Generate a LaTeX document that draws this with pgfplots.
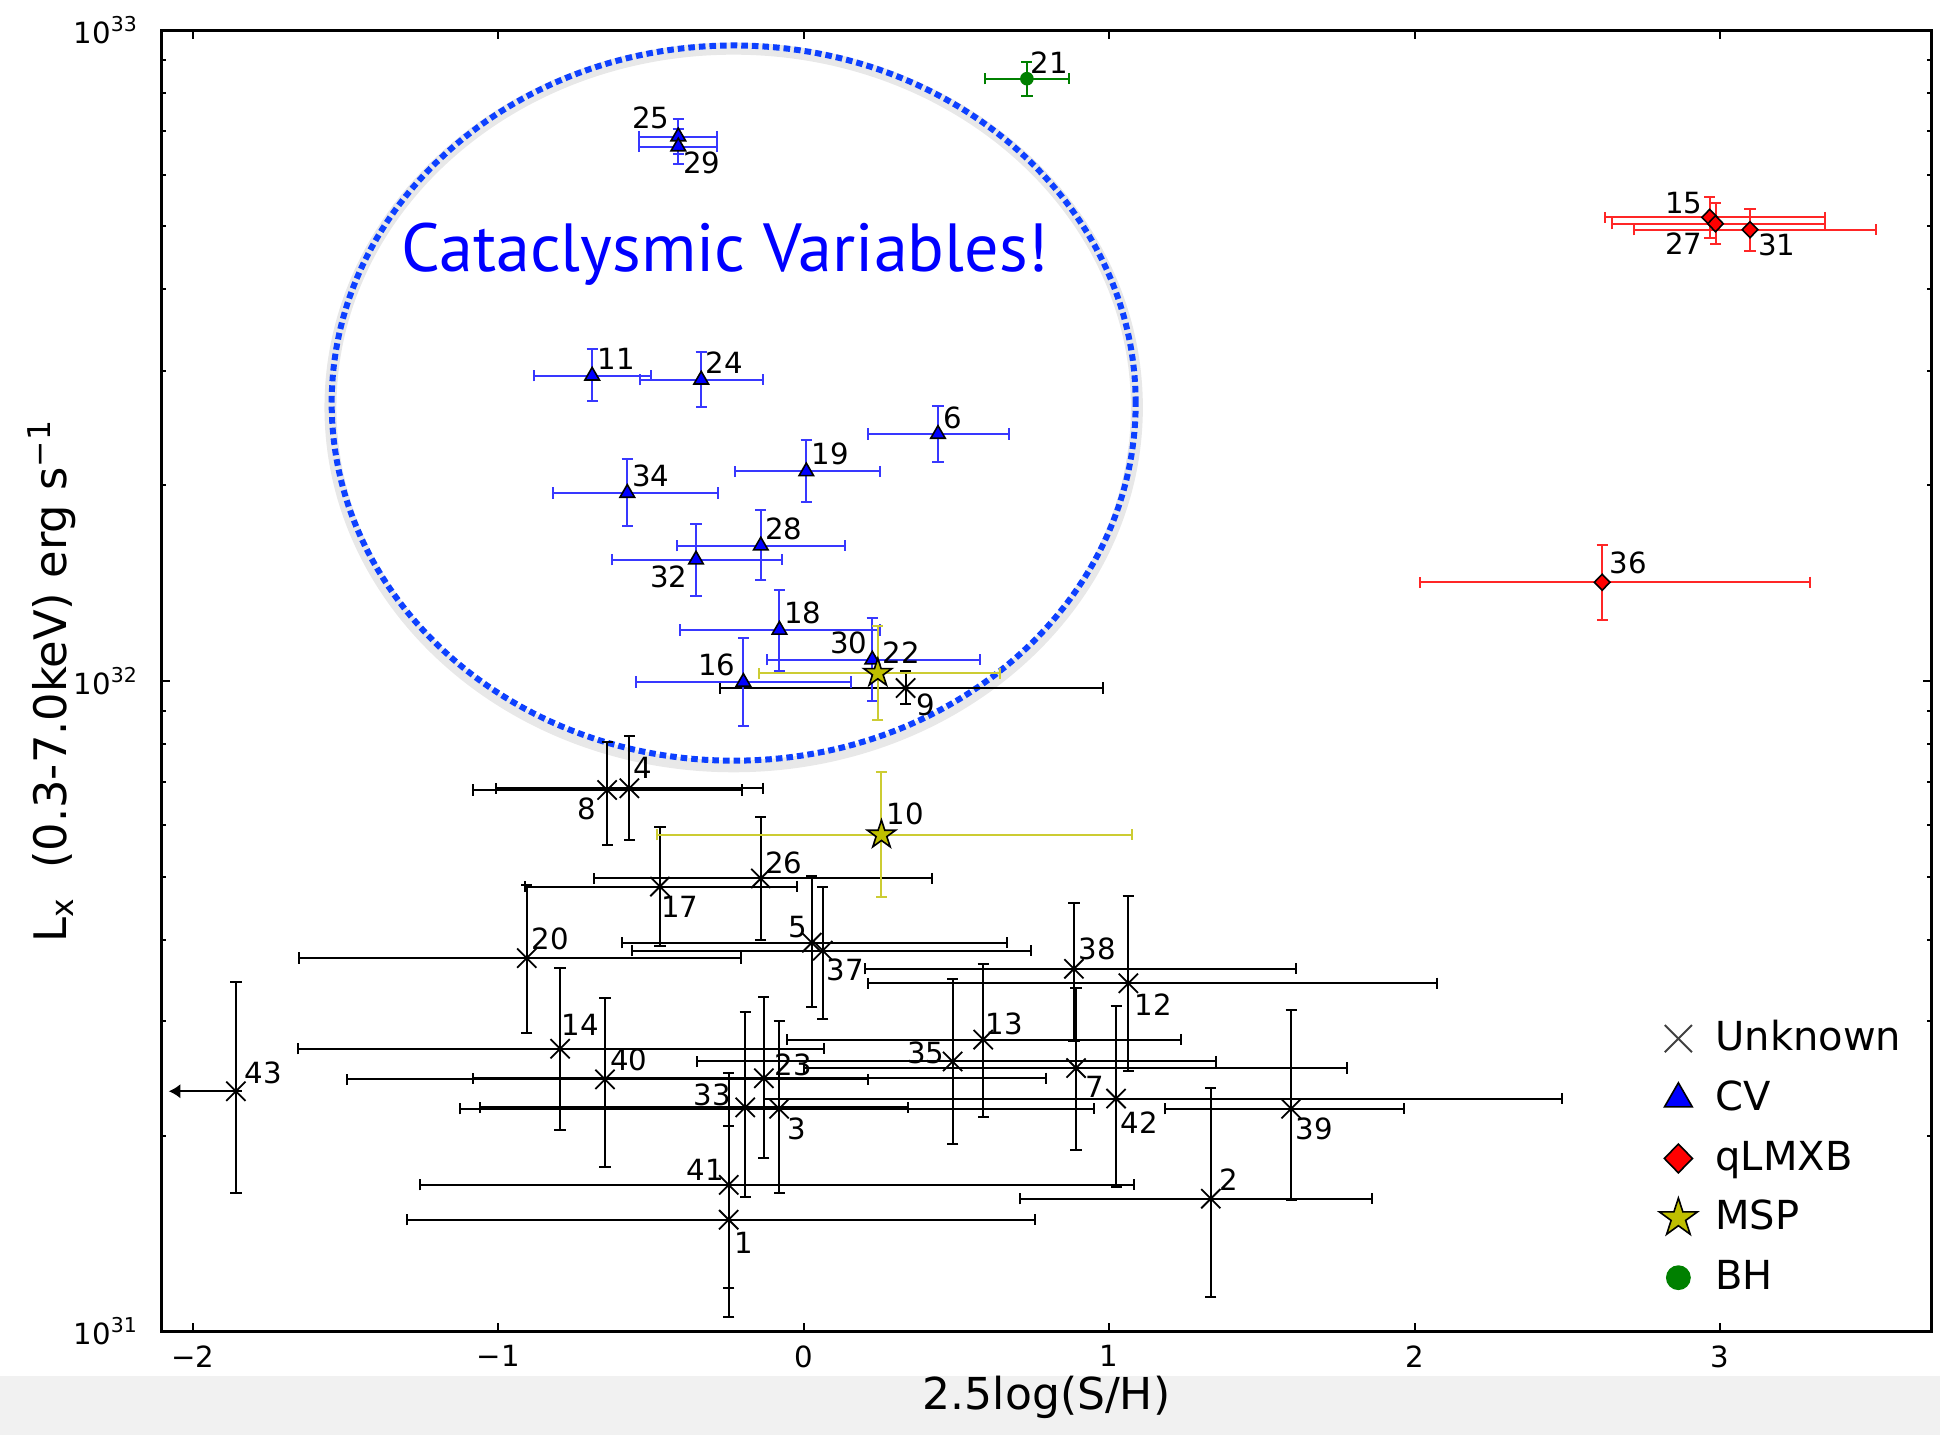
\documentclass[border=0pt]{standalone}
\usepackage{pgfplots}
\pgfplotsset{compat=1.18}
\usepackage{pgfplotstable}
\usepackage{fontspec}
\setmainfont{DejaVu Sans}
\newfontfamily\annfont{PT Sans}
\usetikzlibrary{arrows.meta}

\definecolor{cverr}{rgb}{0.22,0.22,1}
\definecolor{lmxberr}{rgb}{1,0.15,0.15}
\definecolor{mspfill}{rgb}{0.75,0.75,0}
\definecolor{msperr}{rgb}{0.8,0.8,0.2}
\definecolor{bhgreen}{rgb}{0,0.5,0}
\definecolor{ringblue}{rgb}{0.05,0.25,1}
\definecolor{bandgray}{rgb}{0.945,0.945,0.945}

\newcommand\lblfont{\fontsize{7.3}{8}\selectfont}

% filled five-pointed star
\pgfdeclareplotmark{fivestar}{%
  \pgfpathmoveto{\pgfpointpolar{90}{\pgfplotmarksize}}%
  \pgfpathlineto{\pgfpointpolar{126}{0.382*\pgfplotmarksize}}%
  \pgfpathlineto{\pgfpointpolar{162}{\pgfplotmarksize}}%
  \pgfpathlineto{\pgfpointpolar{198}{0.382*\pgfplotmarksize}}%
  \pgfpathlineto{\pgfpointpolar{234}{\pgfplotmarksize}}%
  \pgfpathlineto{\pgfpointpolar{270}{0.382*\pgfplotmarksize}}%
  \pgfpathlineto{\pgfpointpolar{306}{\pgfplotmarksize}}%
  \pgfpathlineto{\pgfpointpolar{342}{0.382*\pgfplotmarksize}}%
  \pgfpathlineto{\pgfpointpolar{18}{\pgfplotmarksize}}%
  \pgfpathlineto{\pgfpointpolar{54}{0.382*\pgfplotmarksize}}%
  \pgfpathclose
  \pgfusepathqfillstroke
}

% x  y  x-err(-)  x-err(+)  y-err(-)  y-err(+)  id  label offset (pt)
\pgfplotstableread{
x y exm exp eym eyp lab dx dy
-0.245 1.485e31 1.054 1.004 0.432e31 0.585e31 1 3.8 -5.8
1.333 1.60e31 0.623 0.529 0.47e31 0.77e31 2 4.5 4.8
-0.080 2.20e31 1.044 1.029 0.57e31 0.80e31 3 4.5 -5.0
-0.570 6.84e31 0.437 0.436 1.15e31 1.40e31 4 3.4 5.0
0.027 3.96e31 0.621 0.640 0.81e31 1.05e31 5 -3.6 4.0
0.892 2.54e31 0.892 0.887 0.64e31 0.83e31 7 4.7 -4.6
-0.643 6.80e31 0.438 0.443 1.20e31 1.27e31 8 -5.2 -4.8
0.334 9.75e31 0.607 0.645 0.55e31 0.59e31 9 5.0 -4.2
1.063 3.43e31 0.852 1.009 0.92e31 1.24e31 12 6.2 -5.4
0.588 2.81e31 0.643 0.649 0.67e31 0.86e31 13 5.2 3.8
-0.797 2.72e31 0.859 0.865 0.68e31 0.90e31 14 5.1 6.0
-0.470 4.83e31 0.443 0.447 0.92e31 1.14e31 17 5.0 -5.2
-0.906 3.75e31 0.745 0.701 0.87e31 1.10e31 20 5.9 4.8
-0.130 2.45e31 0.953 0.925 0.60e31 0.82e31 23 7.3 3.3
-0.140 4.97e31 0.545 0.561 0.97e31 1.20e31 26 5.8 3.9
-0.191 2.21e31 0.868 0.533 0.60e31 0.89e31 33 -8.2 3.2
0.488 2.60e31 0.836 0.862 0.66e31 0.88e31 35 -6.7 2.2
0.063 3.85e31 0.624 0.683 0.83e31 0.98e31 37 5.6 -4.7
0.885 3.61e31 0.685 0.726 0.81e31 0.95e31 38 5.9 5.0
1.596 2.20e31 0.414 0.368 0.61e31 0.92e31 39 5.8 -5.0
-0.650 2.44e31 0.845 0.861 0.65e31 0.82e31 40 5.9 4.8
-0.245 1.68e31 1.010 1.325 0.513e31 0.82e31 41 -5.9 3.8
1.023 2.28e31 1.151 1.460 0.61e31 0.88e31 42 5.8 -6.1
-1.858 2.34e31 0 0 0.71e31 1.11e31 43 6.8 4.6
}\unknowntab

\pgfplotstableread{
x y exm exp eym eyp lab dx dy
0.440 2.396e32 0.228 0.232 0.229e32 0.253e32 6 3.6 4.0
-0.692 2.945e32 0.190 0.193 0.256e32 0.292e32 11 6.0 4.2
-0.197 9.96e31 0.351 0.352 1.42e31 1.68e31 16 -6.6 4.3
-0.079 1.198e32 0.326 0.328 0.164e32 0.183e32 18 5.8 4.2
0.009 2.099e32 0.234 0.241 0.212e32 0.250e32 19 6.0 4.4
-0.335 2.904e32 0.2015 0.2035 0.268e32 0.295e32 24 5.8 4.2
-0.410 6.87e32 0.128 0.128 0.41e32 0.44e32 25 -6.9 4.6
-0.140 1.614e32 0.275 0.276 0.187e32 0.220e32 28 5.8 4.2
-0.410 6.63e32 0.128 0.128 0.39e32 0.42e32 29 5.9 -4.2
0.225 1.078e32 0.344 0.351 0.148e32 0.172e32 30 -5.9 4.2
-0.352 1.536e32 0.276 0.281 0.184e32 0.209e32 32 -6.8 -4.2
-0.577 1.945e32 0.244 0.297 0.213e32 0.245e32 34 5.9 4.2
}\cvtab

\pgfplotstableread{
x y exm exp eym eyp lab dx dy
2.966 5.16e32 0.342 0.379 0.36e32 0.39e32 15 -6.5 3.6
2.985 5.045e32 0.3385 0.360 0.355e32 0.375e32 27 -7.9 -5.1
3.098 4.94e32 0.379 0.412 0.36e32 0.37e32 31 6.7 -3.7
2.614 1.418e32 0.596 0.681 0.178e32 0.199e32 36 6.6 4.8
}\lmxbtab

\pgfplotstableread{
x y exm exp eym eyp lab dx dy
0.255 5.80e31 0.7355 0.8206 1.15e31 1.44e31 10 6.0 5.2
0.243 1.028e32 0.389 0.400 0.156e32 0.185e32 22 5.8 5.2
}\msptab

\pgfplotstableread{
x y exm exp eym eyp lab dx dy
0.731 8.43e32 0.137 0.137 0.50e32 0.52e32 21 5.6 3.9
}\bhtab

\pgfplotsset{
  srcpts/.style={
    only marks, forget plot,
    error bars/x dir=both, error bars/x explicit,
    error bars/y dir=both, error bars/y explicit,
    error bars/error bar style={line width=0.5pt, #1},
    error bars/error mark options={rotate=90, line width=0.5pt, mark size=1.4pt, #1},
    nodes near coords, point meta=explicit symbolic,
    visualization depends on={\thisrow{dx}\as\dx},
    visualization depends on={\thisrow{dy}\as\dy},
    nodes near coords style={text=black, inner sep=0pt, anchor=center,
      font=\lblfont, xshift=\dx*1pt, yshift=\dy*1pt},
  },
  table/srctable/.style={x=x, y=y, x error minus=exm, x error plus=exp,
    y error minus=eym, y error plus=eyp, meta=lab},
}

\begin{document}
\begin{tikzpicture}
\useasboundingbox (-40.425pt,-25.825pt) rectangle (444.575pt,332.925pt);
\fill[bandgray] (-40.425pt,-25.825pt) rectangle (444.575pt,-11.1pt);
\begin{axis}[
  at={(0,0)}, anchor=south west,
  scale only axis, width=442.45pt, height=325.25pt,
  xmin=-2.101, xmax=3.692,
  ymode=log, ymin=1e31, ymax=1e33,
  axis line style={line width=0.6pt, black},
  tick align=inside,
  major tick length=2.2pt, minor tick length=1.1pt,
  tick style={line width=0.5pt, black},
  xtick={-2,-1,0,1,2,3},
  xticklabels={−2,−1,0,1,2,3},
  ytick={1e31,1e32,1e33},
  yticklabels={10\textsuperscript{31},10\textsuperscript{32},10\textsuperscript{33}},
  minor ytick={2e31,3e31,4e31,5e31,6e31,7e31,8e31,9e31,2e32,3e32,4e32,5e32,6e32,7e32,8e32,9e32},
  ticklabel style={font=\fontsize{7.3}{8}\selectfont},
  yticklabel style={xshift=-2.2pt},
  xlabel={2.5log(S/H)},
  xlabel style={at={(axis description cs:0.5,0)}, anchor=center, yshift=-16.6pt,
    font=\fontsize{11}{13}\selectfont},
  ylabel={L\textsubscript{x}\ \ (0.3-7.0keV) erg s\textsuperscript{−1}},
  ylabel style={at={(axis description cs:0,0.5)}, anchor=center, yshift=27.4pt,
    font=\fontsize{11.2}{13}\selectfont},
  legend style={draw=none, fill=none, font=\fontsize{10}{12}\selectfont,
    at={(axis description cs:0.839,0.252)}, anchor=north west,
    row sep=2.05pt, legend cell align=left,
    /tikz/every odd column/.append style={column sep=2.5pt}},
  legend image code/.code={\draw[mark repeat=2,mark phase=2,#1]
    plot coordinates {(0pt,0pt)(5pt,0pt)(10pt,0pt)};},
]

% group of sources encircled as cataclysmic variables (soft shadow, then dotted ring)
\draw[black, opacity=0.09, line width=3pt]
  ([yshift=-1.1pt]axis cs:-0.2288,2.674e32) ellipse [x radius=100.8pt, y radius=89.7pt];
\draw[ringblue, line width=1.5pt, line cap=butt, dash pattern=on 1.65pt off 1.0pt]
  (axis cs:-0.2288,2.674e32) ellipse [x radius=100.5pt, y radius=89.4pt];
\node[text=blue, inner sep=0pt, anchor=center] at (axis cs:-0.257,4.536e32)
  {\resizebox{161.75pt}{!}{\annfont Cataclysmic Variables!}};

% unidentified sources
\addplot[srcpts={black}, mark=x, mark size=3.4pt, black,
  mark options={line width=0.45pt}]
  table[srctable]{\unknowntab};
% upper limit on the colour of source 43
\addplot[black, line width=0.5pt, forget plot,
  -{Latex[length=2.9pt, width=3.6pt]}]
  coordinates {(-1.858,2.34e31) (-2.078,2.34e31)};

% cataclysmic variables
\addplot[srcpts={cverr}, mark=triangle*, mark size=2.1pt,
  mark options={draw=black, fill=blue, line width=0.4pt}]
  table[srctable]{\cvtab};
% quiescent LMXBs
\addplot[srcpts={lmxberr}, mark=diamond*, mark size=2pt,
  mark options={draw=black, fill=red, line width=0.4pt, xscale=1.3}]
  table[srctable]{\lmxbtab};
% millisecond pulsars
\addplot[srcpts={msperr}, mark=fivestar, mark size=3.7pt,
  mark options={draw=black, fill=mspfill, line width=0.4pt}]
  table[srctable]{\msptab};
% black hole
\addplot[srcpts={bhgreen}, mark=*, mark size=1.5pt,
  mark options={draw=bhgreen, fill=bhgreen}]
  table[srctable]{\bhtab};

\addlegendimage{only marks, mark=x, mark size=4.8pt, black!75, mark options={line width=0.5pt}}
\addlegendentry{Unknown}
\addlegendimage{only marks, mark=triangle*, mark size=4pt, mark options={draw=black, fill=blue, line width=0.4pt}}
\addlegendentry{CV}
\addlegendimage{only marks, mark=diamond*, mark size=3.6pt, mark options={draw=black, fill=red, line width=0.4pt, xscale=1.3}}
\addlegendentry{qLMXB}
\addlegendimage{only marks, mark=fivestar, mark size=5pt, mark options={draw=black, fill=mspfill, line width=0.4pt}}
\addlegendentry{MSP}
\addlegendimage{only marks, mark=*, mark size=2.9pt, mark options={draw=bhgreen, fill=bhgreen}}
\addlegendentry{BH}
\end{axis}
\end{tikzpicture}
\end{document}
